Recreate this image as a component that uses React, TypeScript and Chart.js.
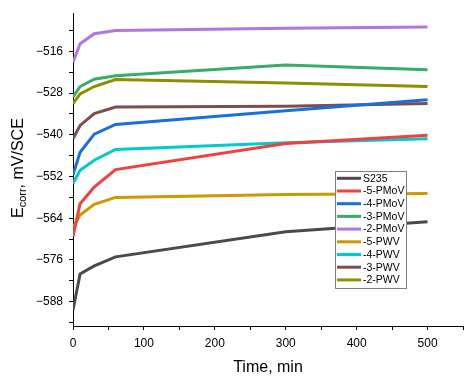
import React, { useEffect, useRef } from "react";
import { Chart, registerables } from "chart.js";

Chart.register(...registerables);

const times = [0, 10, 30, 60, 300, 500];

const seriesNames = ["S235", "-5-PMoV", "-4-PMoV", "-3-PMoV", "-2-PMoV", "-5-PWV", "-4-PWV", "-3-PWV", "-2-PWV"];

const s235 = [-590.4, -580.0, -577.7, -575.1, -567.9, -565.0];
const pmov5 = [-569.3, -559.8, -555.0, -550.0, -542.5, -540.1];
const pmov4 = [-551.5, -545.0, -539.8, -537.0, -533.1, -529.9];
const pmov3 = [-529.1, -526.1, -524.0, -523.0, -519.9, -521.3];
const pmov2 = [-519.1, -513.8, -510.9, -510.0, -509.3, -509.0];
const pwv5 = [-566.7, -563.1, -560.0, -558.0, -557.2, -556.9];
const pwv4 = [-554.0, -550.2, -547.3, -544.2, -542.3, -541.1];
const pwv3 = [-541.1, -537.3, -533.9, -532.0, -531.8, -531.0];
const pwv2 = [-531.0, -528.2, -526.1, -524.1, -525.1, -526.1];

const seriesValues = [s235, pmov5, pmov4, pmov3, pmov2, pwv5, pwv4, pwv3, pwv2];

const colors = ["#4a4a4a", "#f14040", "#1a6fdf", "#37ad6b", "#b177de", "#cc9900", "#00cbcc", "#7d4e4e", "#8e8e00"];

const yMajorTicks = [-588, -576, -564, -552, -540, -528, -516];
const yMinorTicks = [-594, -582, -570, -558, -546, -534, -522, -510];
const xMajorTicks = [0, 100, 200, 300, 400, 500];

const FONT = "'Liberation Sans', Arial, sans-serif";

const fmtNum = (v: number) => (v < 0 ? "\u2212" + Math.abs(v) : String(v));

const decorPlugin = {
  id: "decor",
  afterDraw(chart: any) {
    const ctx = chart.ctx as CanvasRenderingContext2D;
    ctx.save();
    // x title
    ctx.fillStyle = "#000";
    ctx.font = `16px ${FONT}`;
    ctx.textAlign = "center";
    ctx.textBaseline = "alphabetic";
    ctx.fillText("Time, min", 268, 372);
    // y title
    ctx.save();
    ctx.translate(23, 218);
    ctx.rotate(-Math.PI / 2);
    ctx.textAlign = "left";
    ctx.font = `16px ${FONT}`;
    ctx.fillText("E", 0, 0);
    let w = ctx.measureText("E").width;
    ctx.font = `11px ${FONT}`;
    ctx.fillText("corr", w, 3);
    w += ctx.measureText("corr").width;
    ctx.font = `16px ${FONT}`;
    ctx.fillText(", mV/SCE", w, 0);
    ctx.restore();
    // legend
    const lx = 335.5, ly = 171.5, lw = 71, lh = 117;
    ctx.fillStyle = "#fff";
    ctx.fillRect(lx, ly, lw, lh);
    ctx.strokeStyle = "#808080";
    ctx.lineWidth = 1;
    ctx.strokeRect(lx, ly, lw, lh);
    ctx.font = `10.5px ${FONT}`;
    ctx.textAlign = "left";
    ctx.textBaseline = "middle";
    chart.data.datasets.forEach((ds: any, i: number) => {
      const y = 178.3 + i * 12.7;
      ctx.strokeStyle = ds.borderColor;
      ctx.lineWidth = 3;
      ctx.beginPath();
      ctx.moveTo(337, y);
      ctx.lineTo(361, y);
      ctx.stroke();
      ctx.fillStyle = "#000";
      ctx.fillText(ds.label, 363, y + 0.5);
    });
    ctx.restore();
  },
};

export default function App() {
  const ref = useRef<HTMLCanvasElement | null>(null);
  useEffect(() => {
    if (!ref.current) return;
    const chart = new Chart(ref.current, {
      type: "line",
      data: {
        datasets: seriesNames.map((name, i) => ({
          label: name,
          data: times.map((t, j) => ({ x: t, y: seriesValues[i][j] })),
          borderColor: colors[i],
          backgroundColor: colors[i],
          borderWidth: 3,
          pointRadius: 0,
          tension: 0,
          fill: false,
        })),
      },
      options: {
        animation: false,
        responsive: false,
        devicePixelRatio: 1,
        layout: { padding: { left: 0, right: 9, top: 13, bottom: 0 } },
        plugins: { legend: { display: false }, tooltip: { enabled: false } },
        scales: {
          x: {
            type: "linear",
            min: 0,
            max: 550,
            afterBuildTicks: (s: any) => {
              const arr: number[] = [];
              for (let v = 0; v <= 550; v += 50) arr.push(v);
              s.ticks = arr.map((v) => ({ value: v }));
            },
            afterFit: (s: any) => {
              s.height = 53;
            },
            ticks: {
              autoSkip: false,
              maxRotation: 0,
              padding: 6,
              color: "#000",
              font: { family: FONT, size: 12 },
              callback: (v: any) => (xMajorTicks.includes(Number(v)) ? String(v) : ""),
            },
            grid: { drawOnChartArea: false, drawTicks: true, tickLength: 4, color: "#000" },
            border: { display: true, color: "#000", width: 1 },
          },
          y: {
            type: "linear",
            min: -595,
            max: -505,
            afterBuildTicks: (s: any) => {
              s.ticks = [...yMinorTicks, ...yMajorTicks].sort((a, b) => a - b).map((v) => ({ value: v }));
            },
            afterFit: (s: any) => {
              s.width = 73;
            },
            ticks: {
              autoSkip: false,
              padding: 6,
              color: "#000",
              font: { family: FONT, size: 12 },
              callback: (v: any) => (yMajorTicks.includes(Number(v)) ? fmtNum(Number(v)) : ""),
            },
            grid: { drawOnChartArea: false, drawTicks: true, tickLength: 4, color: "#000" },
            border: { display: true, color: "#000", width: 1 },
          },
        },
      } as any,
      plugins: [decorPlugin],
    });
    return () => chart.destroy();
  }, []);
  return (
    <div style={{ position: "absolute", left: 0, top: 0, width: 472, height: 379, background: "#fff" }}>
      <canvas ref={ref} width={472} height={379} style={{ width: 472, height: 379 }} />
    </div>
  );
}
